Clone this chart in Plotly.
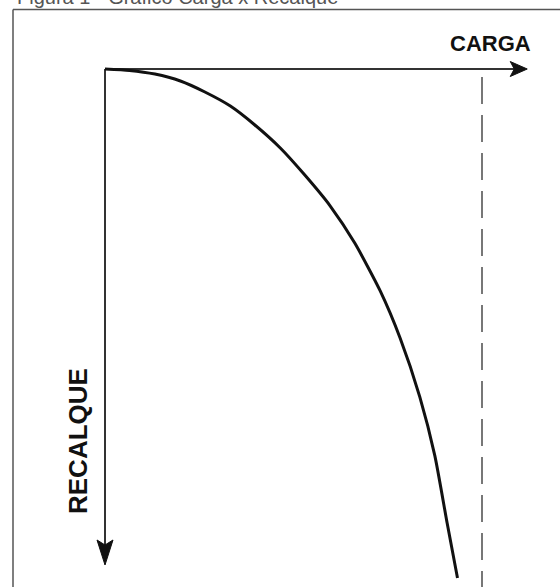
import plotly.graph_objects as go

# Load-settlement curve (pile load test)
load_kN = [0, 26, 53, 80, 106, 133, 159, 186, 212, 239, 265, 292, 313, 334, 350, 363, 374]
settlement_mm = [0, 0.07, 0.25, 0.59, 1.13, 1.82, 2.75, 3.88, 5.21, 6.73, 8.55, 10.9,
                 13.2, 16.1, 19.0, 22.3, 25.0]
ultimate_load_kN = 400          # asymptote (dashed line)
load_axis_end_kN = 448          # tip of the load arrow
settlement_axis_end_mm = 24.36  # tip of the settlement arrow

axis_labels = ["CARGA", "RECALQUE"]
title_text = "Figura 1 - Gráfico Carga x Recalque"

# Page geometry and scales
W, H = 560, 587
ORIGIN_PX = (105, 69)
KN_PX = 0.9425   # pixels per kN
MM_PX = 20.36    # pixels per mm


def qx(px):
    return (px - ORIGIN_PX[0]) / KN_PX


def sy(py):
    return (py - ORIGIN_PX[1]) / MM_PX


x_range = [qx(0), qx(W)]
y_range = [sy(H), sy(0)]  # reversed: settlement grows downward

AXIS_COLOR = "#333333"

fig = go.Figure()

# Load axis (horizontal) and settlement axis (vertical)
fig.add_trace(go.Scatter(
    x=[0, load_axis_end_kN - 12 / KN_PX], y=[0, 0],
    mode="lines", line=dict(color=AXIS_COLOR, width=2),
    hoverinfo="skip", showlegend=False))
fig.add_trace(go.Scatter(
    x=[0, 0], y=[0, settlement_axis_end_mm - 18 / MM_PX],
    mode="lines", line=dict(color=AXIS_COLOR, width=2),
    hoverinfo="skip", showlegend=False))

# Ultimate load asymptote
fig.add_trace(go.Scatter(
    x=[ultimate_load_kN, ultimate_load_kN], y=[8 / MM_PX, y_range[0]],
    mode="lines", line=dict(color="#777777", width=2, dash="27px,11px"),
    hoverinfo="skip", showlegend=False))

# Load-settlement curve
fig.add_trace(go.Scatter(
    x=load_kN, y=settlement_mm, mode="lines",
    line=dict(color="#111111", width=3, shape="spline", smoothing=0.6),
    showlegend=False))

# Arrowheads
tip_q = load_axis_end_kN
h_path = (f"M {tip_q},0 L {tip_q - 17 / KN_PX},{-7.5 / MM_PX} "
          f"L {tip_q - 13 / KN_PX},0 L {tip_q - 17 / KN_PX},{7.5 / MM_PX} Z")
tip_s = settlement_axis_end_mm
v_path = (f"M 0,{tip_s} L {-8 / KN_PX},{tip_s - 25 / MM_PX} "
          f"L 0,{tip_s - 20 / MM_PX} L {8 / KN_PX},{tip_s - 25 / MM_PX} Z")
for p in (h_path, v_path):
    fig.add_shape(type="path", path=p, xref="x", yref="y",
                  fillcolor="#111111", line=dict(color="#111111", width=1))

# Frame (left and top edges)
fig.add_shape(type="line", xref="paper", yref="paper",
              x0=13 / W, x1=13 / W, y0=1 - 9.5 / H, y1=0,
              line=dict(color="#555555", width=1.5))
fig.add_shape(type="line", xref="paper", yref="paper",
              x0=13 / W, x1=1, y0=1 - 9.5 / H, y1=1 - 9.5 / H,
              line=dict(color="#555555", width=1.5))

# Axis labels
fig.add_annotation(x=qx(490), y=sy(43), text=f"<b>{axis_labels[0]}</b>", showarrow=False,
                   font=dict(family="Liberation Sans", size=22, color="#111111"),
                   xanchor="center", yanchor="middle")
fig.add_annotation(x=qx(78), y=sy(441), text=f"<b>{axis_labels[1]}</b>", showarrow=False,
                   textangle=-90,
                   font=dict(family="Liberation Sans", size=26, color="#111111"),
                   xanchor="center", yanchor="middle")

# Caption
fig.add_annotation(x=15 / W, y=1 - 10 / H, xref="paper", yref="paper",
                   text=title_text, showarrow=False,
                   font=dict(family="Liberation Sans", size=20, color="#555555"),
                   xanchor="left", yanchor="bottom")

fig.update_layout(
    width=W, height=H,
    margin=dict(l=0, r=0, t=0, b=0),
    paper_bgcolor="white", plot_bgcolor="white",
    xaxis=dict(visible=False, range=x_range, fixedrange=True),
    yaxis=dict(visible=False, range=y_range, fixedrange=True),
)

fig.write_html("out.html")
